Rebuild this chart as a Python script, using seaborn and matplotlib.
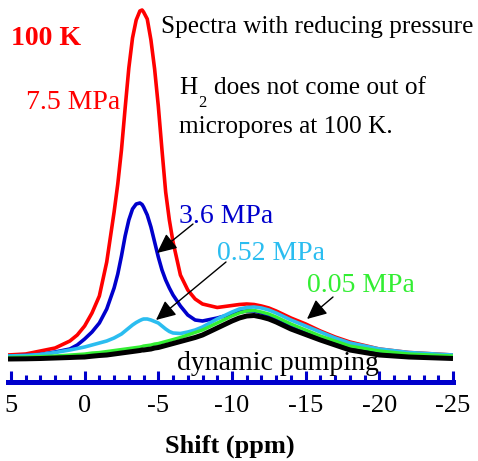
import matplotlib
matplotlib.use("Agg")
import matplotlib.pyplot as plt
from matplotlib.ticker import MultipleLocator
import seaborn as sns
import pandas as pd

# ---- data ----
shift_ppm = [5.2, 4, 3, 2, 1, 0.5, 0, -0.5, -1, -1.5,
             -2, -2.25, -2.5, -2.75, -3, -3.25, -3.5, -3.75, -3.9, -4,
             -4.25, -4.5, -4.75, -5, -5.25, -5.5, -5.75, -6, -6.5, -7,
             -7.5, -8, -9, -10, -10.5, -11, -11.5, -12, -12.5, -13,
             -14, -15, -16, -17, -18, -20, -22, -25]
p75_MPa = [4, 5, 8, 11, 18, 24, 33, 46, 63, 97,
           147, 175, 209, 251, 291, 321, 339, 348, 349, 347,
           340, 319, 290, 253, 209, 167, 139, 117, 84, 69,
           60, 55, 51.5, 53.5, 54.5, 55, 54.5, 53, 51, 48,
           41, 35, 28, 22, 17, 10, 6.5, 4]
p36_MPa = [3, 3.5, 4.5, 7, 10, 14, 20, 27, 36, 50,
           71, 85, 103, 123, 139, 150, 155, 156, 154.5, 152,
           144, 132, 117, 102, 89, 79, 71, 64, 53, 44,
           39, 38, 41, 45, 47, 48, 48, 46, 43.5, 40,
           32, 26, 20, 15, 11, 6, 3.5, 2]
p052_MPa = [3, 3.5, 4.5, 6.5, 9, 10.5, 12, 14, 16, 18,
            21, 23, 25, 28, 31, 34, 36.5, 38.5, 39.5, 40,
            40, 39, 37.5, 36, 33, 30, 27.5, 26, 25.5, 27,
            29, 32, 40, 47, 50, 51.5, 52, 51, 49, 46,
            39, 33, 27, 21, 16, 10, 6.5, 4]
p005_MPa = [1.5, 2, 2.5, 3, 4, 4.5, 5, 6, 6.5, 7.5,
            8.5, 9, 9.5, 10, 10.5, 11, 11.5, 12, 12.5, 13,
            13.5, 14, 15, 15.5, 16.5, 17.5, 18.5, 19.5, 21.5, 24,
            26.5, 29, 36, 43, 46, 48, 48.5, 47, 45, 42,
            35, 29, 23, 18, 13, 8, 5, 3]
dyn_pump = [0, 0.2, 0.5, 1, 1.5, 1.8, 2, 2.8, 3.5, 4,
            5, 5.5, 6, 6.5, 7, 7.5, 8, 8.5, 9, 9,
            9.5, 10, 11, 11.5, 12.5, 13.5, 14.5, 15.5, 17.5, 19.5,
            21.5, 24, 31, 38, 41, 43, 43.5, 42, 40, 37,
            30, 24.5, 19, 14, 9, 4, 2, 0.5]

series_names = ["7.5 MPa", "3.6 MPa", "0.52 MPa", "0.05 MPa", "dynamic pumping"]
series_vals = [p75_MPa, p36_MPa, p052_MPa, p005_MPa, dyn_pump]
series_colors = ["#FF0000", "#0000CC", "#2BBDF0", "#33EE33", "#000000"]
series_lw = [2.6, 2.6, 2.6, 2.4, 3.6]

xticks_major = [5, 0, -5, -10, -15, -20, -25]

# ---- figure ----
sns.set_style("white")
plt.rcParams["font.family"] = ["Liberation Serif", "DejaVu Serif"]
plt.rcParams["text.color"] = "black"
plt.rcParams["xtick.color"] = "black"

W, H = 478, 461
fig = plt.figure(figsize=(W / 100, H / 100), dpi=100)

def fx(px):
    return px / W

def fy(py):
    return 1 - py / H

ax = fig.add_axes([fx(8), fy(381.5), fx(453) - fx(8), 1 - fy(381.5)])

rows = []
for name, vals in zip(series_names, series_vals):
    for s, v in zip(shift_ppm, vals):
        rows.append({"shift": s, "intensity": v, "series": name})
df = pd.DataFrame(rows)

for name, col, lw in zip(series_names, series_colors, series_lw):
    sns.lineplot(data=df[df["series"] == name], x="shift", y="intensity",
                 color=col, linewidth=lw, ax=ax, legend=False, sort=False,
                 solid_capstyle="butt", solid_joinstyle="round")

ax.set_xlim(5.2, -25)
ax.set_ylim(-22.5, 359)
ax.set_xlabel("")
ax.set_ylabel("")
ax.set_yticks([])
for sp in ["top", "left", "right"]:
    ax.spines[sp].set_visible(False)
ax.spines["bottom"].set_color("#0000CC")
ax.spines["bottom"].set_linewidth(3.6)
ax.set_xticks(xticks_major)
ax.set_xticklabels([str(t) for t in xticks_major])
ax.xaxis.set_minor_locator(MultipleLocator(1))
ax.tick_params(axis="x", which="major", direction="in", length=7.6, width=2.2,
               color="#0000CC", labelsize=19, pad=10, labelcolor="black", bottom=True)
ax.tick_params(axis="x", which="minor", direction="in", length=4.7, width=2.2,
               color="#0000CC", bottom=True)
ax.patch.set_alpha(0)

fig.text(fx(230), fy(453), "Shift (ppm)", ha="center", va="baseline",
         fontsize=19, fontweight="bold", color="black")

# annotations
fig.text(fx(11), fy(45), "100 K", color="#FF0000", fontsize=20, fontweight="bold",
         ha="left", va="baseline")
fig.text(fx(26), fy(109), "7.5 MPa", color="#FF0000", fontsize=20, ha="left", va="baseline")
fig.text(fx(161), fy(33), "Spectra with reducing pressure", fontsize=18.2,
         ha="left", va="baseline", color="black")
fig.text(fx(179), fy(94), "H", fontsize=18.2, ha="left", va="baseline", color="black")
fig.text(fx(198), fy(107), "2", fontsize=12, ha="left", va="baseline", color="black")
fig.text(fx(214), fy(94), "does not come out of", fontsize=18.2, ha="left",
         va="baseline", color="black")
fig.text(fx(179), fy(133), "micropores at 100 K.", fontsize=18.2, ha="left",
         va="baseline", color="black")
fig.text(fx(179), fy(223), "3.6 MPa", color="#0000CC", fontsize=20, ha="left", va="baseline")
fig.text(fx(217), fy(260), "0.52 MPa", color="#2BBDF0", fontsize=20, ha="left", va="baseline")
fig.text(fx(307), fy(292), "0.05 MPa", color="#33EE33", fontsize=20, ha="left", va="baseline")
fig.text(fx(177), fy(370), "dynamic pumping", fontsize=20, ha="left", va="baseline",
         color="black")

arrows = [((193, 224), (157, 253)), ((226, 262), (156, 320)), ((333, 297), (307, 319))]
for (tx, ty), (hx, hy) in arrows:
    fig.add_artist(matplotlib.patches.FancyArrowPatch(
        (fx(tx), fy(ty)), (fx(hx), fy(hy)), transform=fig.transFigure,
        arrowstyle="-|>,head_length=0.6,head_width=0.28", mutation_scale=20,
        color="black", lw=1.0, shrinkA=0, shrinkB=0))

fig.savefig("out.png", dpi=100)
